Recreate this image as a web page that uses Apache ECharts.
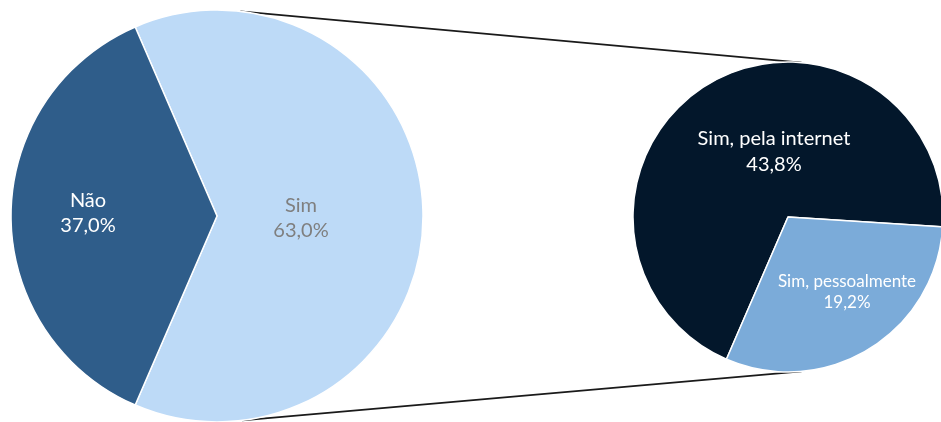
<!DOCTYPE html>
<html>
<head>
<meta charset="utf-8">
<script src="https://cdn.jsdelivr.net/npm/echarts@6/dist/echarts.min.js"></script>
<style>
  html, body { margin: 0; padding: 0; background: #ffffff; }
  #chart { width: 941px; height: 422px; }
</style>
</head>
<body>
<div id="chart"></div>
<script>
// Main split: answered yes / no
const mainCategories = ['Sim', 'Não'];
const mainValues = [63.0, 37.0];

// Breakdown of the "Sim" share
const detailCategories = ['Sim, pela internet', 'Sim, pessoalmente'];
const detailValues = [43.8, 19.2];

// Layout of the two pies
const mainPie = { cx: 217, cy: 216, r: 206 };
const detailPie = { cx: 788, cy: 217, r: 155 };

const FONT = 'Lato, "Open Sans", sans-serif';

function pct(v) {
  return v.toFixed(1).replace('.', ',') + '%';
}

// Point on a circle at a math angle (degrees, counter-clockwise from +x)
function onCircle(p, deg) {
  const a = deg * Math.PI / 180;
  return [p.cx + p.r * Math.cos(a), p.cy - p.r * Math.sin(a)];
}

// Connector lines from the "Sim" slice to the breakdown pie
const topStart = onCircle(mainPie, 83.5);
const topEnd = onCircle(detailPie, 85);
const botStart = onCircle(mainPie, -83);
const botEnd = onCircle(detailPie, -85);

const mainColors = ['#BDDAF7', '#2F5D8A'];
const mainLabelColors = ['#7F7F7F', '#FFFFFF'];
const mainLabelShift = [[-22, 2], [-23, -3]];

const detailColors = ['#03172B', '#7BABD9'];
const detailLabelSize = [20, 17];
const detailLabelLine = [26, 21];
const detailLabelShift = [[28, 3], [17, 6]];

const chart = echarts.init(document.getElementById('chart'), null, { renderer: 'canvas' });

chart.setOption({
  backgroundColor: '#ffffff',
  animation: false,
  graphic: [
    {
      type: 'line', z: 1,
      shape: { x1: topStart[0], y1: topStart[1], x2: topEnd[0], y2: topEnd[1] },
      style: { stroke: '#1a1a1a', lineWidth: 1.8 }
    },
    {
      type: 'line', z: 1,
      shape: { x1: botStart[0], y1: botStart[1], x2: botEnd[0], y2: botEnd[1] },
      style: { stroke: '#1a1a1a', lineWidth: 1.8 }
    }
  ],
  series: [
    {
      type: 'pie',
      z: 3,
      center: [mainPie.cx, mainPie.cy],
      radius: [0, mainPie.r],
      startAngle: 113.4,
      clockwise: true,
      silent: true,
      itemStyle: { borderColor: '#ffffff', borderWidth: 1.5 },
      label: {
        show: true,
        position: 'inside',
        fontFamily: FONT,
        fontSize: 20,
        lineHeight: 25,
        align: 'center',
        formatter: p => p.name + '\n' + pct(p.value)
      },
      labelLine: { show: false },
      labelLayout: p => ({ dx: mainLabelShift[p.dataIndex][0], dy: mainLabelShift[p.dataIndex][1] }),
      data: mainCategories.map((name, i) => ({
        name: name,
        value: mainValues[i],
        itemStyle: { color: mainColors[i] },
        label: { color: mainLabelColors[i] }
      }))
    },
    {
      type: 'pie',
      z: 3,
      center: [detailPie.cx, detailPie.cy],
      radius: [0, detailPie.r],
      startAngle: 246.6,
      clockwise: true,
      silent: true,
      itemStyle: { borderColor: '#ffffff', borderWidth: 1.5 },
      label: {
        show: true,
        position: 'inside',
        fontFamily: FONT,
        color: '#FFFFFF',
        align: 'center',
        formatter: p => p.name + '\n' + pct(p.value)
      },
      labelLine: { show: false },
      labelLayout: p => ({ dx: detailLabelShift[p.dataIndex][0], dy: detailLabelShift[p.dataIndex][1] }),
      data: detailCategories.map((name, i) => ({
        name: name,
        value: detailValues[i],
        itemStyle: { color: detailColors[i] },
        label: { fontSize: detailLabelSize[i], lineHeight: detailLabelLine[i] }
      }))
    }
  ]
});
</script>
</body>
</html>
